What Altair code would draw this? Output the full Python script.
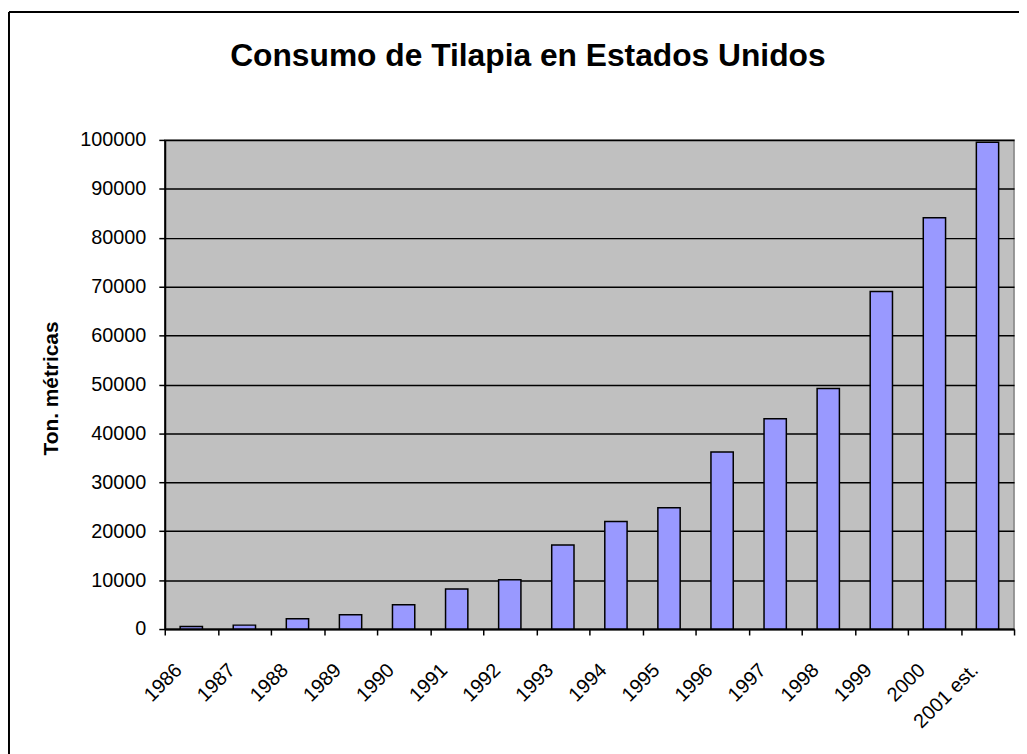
import altair as alt
import pandas as pd

years = ["1986", "1987", "1988", "1989", "1990", "1991", "1992", "1993",
         "1994", "1995", "1996", "1997", "1998", "1999", "2000", "2001 est."]
values = [500, 800, 2100, 2900, 4950, 8200, 10100, 17200,
          22000, 24800, 36200, 43000, 49200, 69000, 84100, 99500]
y_ticks = [0, 10000, 20000, 30000, 40000, 50000, 60000, 70000, 80000, 90000, 100000]

FONT = "Liberation Sans"

df = pd.DataFrame({"year": years, "value": values})

bars = alt.Chart(df).mark_bar(
    width=alt.RelativeBandSize(0.42),
    fill="#9999FF", stroke="black", strokeWidth=1.5
).encode(
    x=alt.X("year:N", sort=years, scale=alt.Scale(paddingInner=0, paddingOuter=0),
            axis=alt.Axis(title=None, labelAngle=-45, labelAlign="right", labelBaseline="middle",
                          labelOffset=-13, labelPadding=32, tickBand="extent", tickSize=6,
                          tickColor="black", tickWidth=1.5, domainColor="black", domainWidth=2,
                          labelFont=FONT, labelFontSize=20, labelColor="black", grid=False)),
    y=alt.Y("value:Q", scale=alt.Scale(domain=[0, 100000], nice=False),
            axis=alt.Axis(values=y_ticks, format="d", title="Ton. métricas",
                          titleFont=FONT, titleFontSize=21, titleFontWeight="bold", titleColor="black",
                          titleAngle=270, titleX=-104, titleY=250, titleBaseline="bottom", titleAlign="center",
                          grid=True, gridColor="black", gridWidth=1.5,
                          domainColor="black", domainWidth=2, tickSize=6, tickColor="black", tickWidth=1.5,
                          labelPadding=13, labelFont=FONT, labelFontSize=20, labelColor="black")),
)

frame_df = pd.DataFrame({"a": [0]})
frame_left = alt.Chart(frame_df).mark_rule(color="black", strokeWidth=2).encode(
    x=alt.value(-157), x2=alt.value(-157), y=alt.value(-129), y2=alt.value(620))
frame_top = alt.Chart(frame_df).mark_rule(color="black", strokeWidth=2).encode(
    x=alt.value(-157), x2=alt.value(870), y=alt.value(-129), y2=alt.value(-129))

chart = alt.layer(bars, frame_left, frame_top).properties(
    width=856, height=493,
    title=alt.TitleParams("Consumo de Tilapia en Estados Unidos", font=FONT, fontSize=32,
                          fontWeight="bold", color="black", anchor="middle", dx=-62,
                          offset=0, dy=88, baseline="alphabetic"),
    autosize=alt.AutoSizeParams(type="none"),
    padding={"left": 158, "top": 130, "right": 5, "bottom": 123},
    background="white",
).configure_view(stroke="#808080", fill="#C0C0C0", strokeWidth=1.5)

chart.save("out.html", embed_options={"renderer": "svg", "actions": False})
